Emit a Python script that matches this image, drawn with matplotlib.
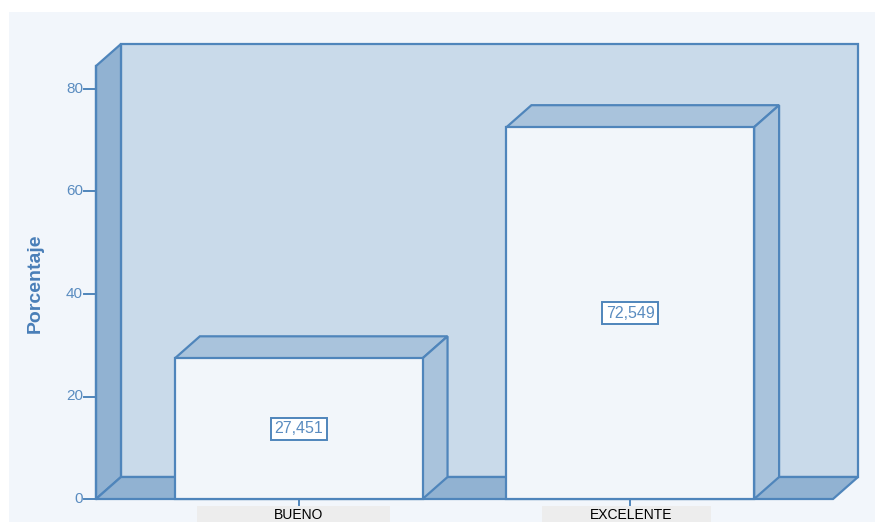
import matplotlib
matplotlib.use("Agg")
import matplotlib.pyplot as plt
from matplotlib.patches import Polygon, Rectangle

categories = ["BUENO", "EXCELENTE"]
values = [27.451, 72.549]
yticks = [0, 20, 40, 60, 80]

W, H = 875, 522
fig = plt.figure(figsize=(W / 100, H / 100), dpi=100)
fig.patch.set_facecolor("white")

# panel background
fig.add_artist(Rectangle((9 / W, 0), (W - 9) / W, (H - 12) / H,
                         transform=fig.transFigure, facecolor="#F2F6FB",
                         edgecolor="none", zorder=0))

edge = "#4F85BB"
wall = "#C9DAEA"
side = "#91B2D2"
top_c = "#A9C3DC"
front = "#F2F6FA"
txt_blue = "#5A8CC0"

# pixel geometry -> data units
px_cat = 332.0            # pixels between categories
px_val = 410.0 / 80       # pixels per percent
x0 = -203 / px_cat
x1 = 1 + 203 / px_cat
dx = 25 / px_cat
dy = 22 / px_val
ytop = (499 - 44) / px_val
bw = 248 / px_cat

ax = fig.add_axes([96 / W, (H - 499) / H, (858 - 96) / W, (499 - 44) / H])
ax.set_xlim(x0, x1 + dx)
ax.set_ylim(0, ytop)
ax.axis("off")

lw = 1.6
# back wall
ax.add_patch(Rectangle((x0 + dx, dy), x1 - x0, ytop - dy, facecolor=wall,
                       edgecolor=edge, lw=lw, clip_on=False, zorder=1))
# left wall
ax.add_patch(Polygon([(x0, 0), (x0 + dx, dy), (x0 + dx, ytop), (x0, ytop - dy)],
                     closed=True, facecolor=side, edgecolor=edge, lw=lw,
                     clip_on=False, zorder=2))
# floor
ax.add_patch(Polygon([(x0, 0), (x1, 0), (x1 + dx, dy), (x0 + dx, dy)],
                     closed=True, facecolor=side, edgecolor=edge, lw=lw,
                     clip_on=False, zorder=2))

for i, (cat, v) in enumerate(zip(categories, values)):
    l, r = i - bw / 2, i + bw / 2
    ax.add_patch(Polygon([(l, v), (r, v), (r + dx, v + dy), (l + dx, v + dy)],
                         closed=True, facecolor=top_c, edgecolor=edge, lw=lw,
                         clip_on=False, zorder=3))
    ax.add_patch(Polygon([(r, 0), (r + dx, dy), (r + dx, v + dy), (r, v)],
                         closed=True, facecolor=top_c, edgecolor=edge, lw=lw,
                         clip_on=False, zorder=3))
    ax.add_patch(Rectangle((l, 0), bw, v, facecolor=front, edgecolor=edge,
                           lw=lw, clip_on=False, zorder=4))
    ax.text(i, v / 2, f"{v:.3f}".replace(".", ","), ha="center", va="center",
            fontsize=11.5, color=txt_blue, family="Liberation Sans", zorder=5,
            bbox=dict(boxstyle="square,pad=0.22", facecolor="white",
                      edgecolor=edge, lw=1.4))
    # category tick
    ax.plot([i, i], [0, -6 / px_val], color=edge, lw=1.4, clip_on=False, zorder=4)

# front y axis
ax.plot([x0, x0], [0, ytop - dy], color=edge, lw=lw, clip_on=False, zorder=4)
for t in yticks:
    ax.plot([x0 - 12 / px_cat, x0], [t, t], color=edge, lw=1.4, clip_on=False, zorder=4)
    ax.text(x0 - 13 / px_cat, t, str(t), ha="right", va="center", fontsize=11,
            color=txt_blue, family="Liberation Sans")

fig.text(35 / W, 1 - 283 / H, "Porcentaje", rotation=90, ha="center", va="center",
         fontsize=14, fontweight="bold", color="#4A7FB8", family="Liberation Sans")

# category labels with grey boxes
label_boxes = [(197, 390), (542, 711)]
for (bl, br), cat, cx in zip(label_boxes, categories, [299, 631]):
    fig.add_artist(Rectangle((bl / W, 0), (br - bl) / W, (H - 506) / H,
                             transform=fig.transFigure, facecolor="#EDEDED",
                             edgecolor="none", zorder=1))
    fig.text(cx / W, 1 - 508 / H, cat, ha="center", va="top", fontsize=10,
             color="black", family="Liberation Sans", zorder=2)

fig.savefig("out.png", dpi=100, facecolor=fig.get_facecolor())
